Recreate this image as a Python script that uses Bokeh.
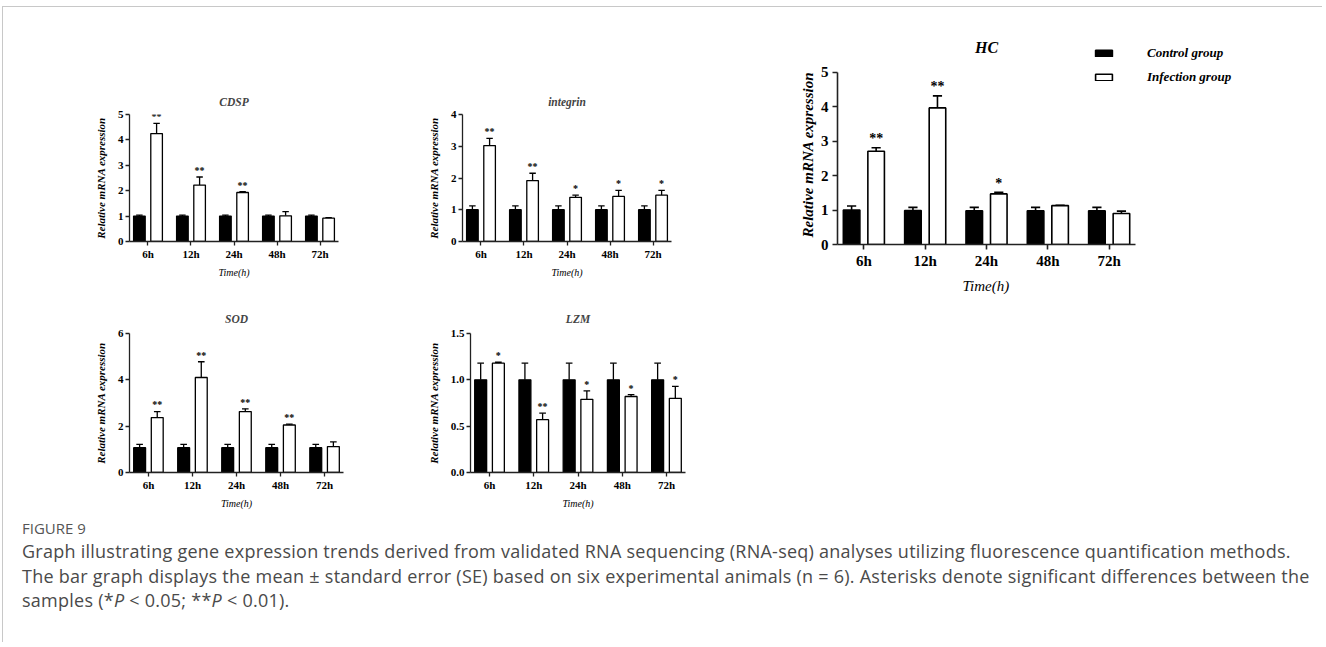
from bokeh.plotting import figure
from bokeh.layouts import row, column
from bokeh.models import (ColumnDataSource, FixedTicker, Spacer, Div, Legend, LegendItem,
                          Range1d, NumeralTickFormatter, Label, Title)
from bokeh.embed import file_html
from bokeh.resources import INLINE
from bokeh.core.properties import value

# ---------------- data ----------------
time_labels = ["6h", "12h", "24h", "48h", "72h"]

cdsp_control = [1.00, 1.00, 1.00, 1.00, 1.00]
cdsp_control_se = [0.04, 0.04, 0.04, 0.04, 0.04]
cdsp_infection = [4.25, 2.22, 1.93, 1.01, 0.92]
cdsp_infection_se = [0.40, 0.32, 0.03, 0.17, 0.02]
cdsp_sig = ["**", "**", "**", "", ""]

integrin_control = [1.00, 1.00, 1.00, 1.00, 1.00]
integrin_control_se = [0.12, 0.12, 0.12, 0.12, 0.12]
integrin_infection = [3.02, 1.92, 1.39, 1.42, 1.46]
integrin_infection_se = [0.23, 0.23, 0.07, 0.19, 0.15]
integrin_sig = ["**", "**", "*", "*", "*"]

hc_control = [1.00, 0.99, 0.98, 0.98, 0.98]
hc_control_se = [0.12, 0.09, 0.10, 0.10, 0.10]
hc_infection = [2.71, 3.97, 1.47, 1.13, 0.90]
hc_infection_se = [0.10, 0.35, 0.05, 0.01, 0.07]
hc_sig = ["**", "**", "*", "", ""]

sod_control = [1.07, 1.07, 1.07, 1.07, 1.07]
sod_control_se = [0.14, 0.14, 0.14, 0.14, 0.14]
sod_infection = [2.37, 4.10, 2.63, 2.05, 1.12]
sod_infection_se = [0.26, 0.68, 0.12, 0.04, 0.20]
sod_sig = ["**", "**", "**", "**", ""]

lzm_control = [1.00, 1.00, 1.00, 1.00, 1.00]
lzm_control_se = [0.18, 0.18, 0.18, 0.18, 0.18]
lzm_infection = [1.18, 0.57, 0.79, 0.82, 0.80]
lzm_infection_se = [0.01, 0.07, 0.09, 0.02, 0.13]
lzm_sig = ["*", "**", "*", "*", "*"]

legend_labels = ["Control group", "Infection group"]
y_title = "Relative mRNA expression"
x_title = "Time(h)"

SERIF = "Liberation Serif"
AXIS_COLOR = "#222222"
X_PAD = 0.43


def panel(title, ctrl, ctrl_se, inf, inf_se, sig, yticks, ymax, geom, big=False, fmt=None,
          title_standoff=14, extend=None):
    w, h, ml, mr, mt, mb = geom
    idx = list(range(len(time_labels)))
    x_axis_end = len(idx) - 1 + X_PAD
    x_end, y_end = extend if extend else (x_axis_end, ymax)
    p = figure(width=w, height=h, min_border_left=ml, min_border_right=mr,
               min_border_top=mt, min_border_bottom=mb,
               x_range=Range1d(-X_PAD, x_end), y_range=Range1d(0, y_end),
               output_backend="svg", toolbar_location=None, tools="")
    p.outline_line_color = None
    p.xgrid.grid_line_color = None
    p.ygrid.grid_line_color = None
    p.background_fill_color = "white"
    p.border_fill_color = "white"

    off = 0.2
    bw = 0.27
    xc = [i - off for i in idx]
    xi = [i + off for i in idx]
    lw = 1.6 if big else 1.3
    src = ColumnDataSource(dict(
        xc=xc, xi=xi, ctrl=ctrl, inf=inf,
        ctrl_top=[c + e for c, e in zip(ctrl, ctrl_se)],
        inf_top=[v + e for v, e in zip(inf, inf_se)],
        xc0=[x - 0.075 for x in xc], xc1=[x + 0.075 for x in xc],
        xi0=[x - 0.075 for x in xi], xi1=[x + 0.075 for x in xi],
        sig=sig,
        sig_y=[v + e + ymax * 0.008 for v, e in zip(inf, inf_se)],
    ))
    # error bars (upper only, GraphPad style)
    p.segment(x0="xc", y0="ctrl", x1="xc", y1="ctrl_top", source=src, line_color="black", line_width=lw)
    p.segment(x0="xc0", y0="ctrl_top", x1="xc1", y1="ctrl_top", source=src, line_color="black", line_width=lw)
    p.segment(x0="xi", y0="inf", x1="xi", y1="inf_top", source=src, line_color="black", line_width=lw)
    p.segment(x0="xi0", y0="inf_top", x1="xi1", y1="inf_top", source=src, line_color="black", line_width=lw)
    r_ctrl = p.vbar(x="xc", top="ctrl", bottom=0, width=bw, source=src,
                    fill_color="black", line_color="black", line_width=lw)
    r_inf = p.vbar(x="xi", top="inf", bottom=0, width=bw, source=src,
                   fill_color="white", line_color="black", line_width=lw)
    p.text(x="xi", y="sig_y", text="sig", source=src, text_align="center", text_baseline="bottom",
           text_font=value(SERIF), text_font_style="bold",
           text_font_size="14px" if big else "10px", text_color="black")

    # axes
    for ax in (p.xaxis[0], p.yaxis[0]):
        ax.axis_line_color = AXIS_COLOR
        ax.axis_line_width = 1.6 if big else 1.3
        ax.major_tick_line_color = AXIS_COLOR
        ax.major_tick_line_width = 1.6 if big else 1.3
        ax.major_tick_out = 5 if big else 4
        ax.major_tick_in = 0
        ax.minor_tick_line_color = None
        ax.major_label_text_font = SERIF
        ax.major_label_text_font_style = "bold"
        ax.major_label_text_font_size = "15px" if big else "11px"
        ax.major_label_text_color = "black"
        ax.axis_label_text_font = SERIF
        ax.axis_label_text_color = "black"

    p.xaxis.ticker = FixedTicker(ticks=idx)
    p.xaxis.major_label_overrides = {i: lab for i, lab in zip(idx, time_labels)}
    p.xaxis.major_label_standoff = 3 if big else 2
    p.xaxis.bounds = (-X_PAD, x_axis_end)
    p.yaxis.ticker = FixedTicker(ticks=yticks)
    if fmt:
        p.yaxis.formatter = NumeralTickFormatter(format=fmt)
    p.yaxis.major_label_standoff = 4 if big else 2
    p.yaxis.bounds = (0, ymax)

    if extend:
        # frame is larger than the axes: titles placed with explicit offsets
        p.add_layout(Label(x=idx[len(idx) // 2], y=5.73, text=title,
                           text_align="center", text_baseline="middle",
                           text_font=SERIF, text_font_style="bold italic",
                           text_font_size="16px", text_color="black"))
        p.add_layout(Title(text=y_title, align="left", offset=7, standoff=4,
                           text_font=SERIF, text_font_style="bold italic",
                           text_font_size="15px", text_color="black"), "left")
        p.add_layout(Title(text=x_title, align="left", offset=125, standoff=8,
                           text_font=SERIF, text_font_style="italic",
                           text_font_size="15px", text_color="black"), "below")
    else:
        p.title.text = title
        p.title.align = "center"
        p.title.text_font = SERIF
        p.title.text_font_style = "bold italic"
        p.title.text_font_size = "11.5px"
        p.title.standoff = title_standoff
        p.xaxis.axis_label = x_title
        p.xaxis.axis_label_text_font_style = "italic"
        p.xaxis.axis_label_text_font_size = "10px"
        p.xaxis.axis_label_standoff = 4
        p.yaxis.axis_label = y_title
        p.yaxis.axis_label_text_font_style = "bold italic"
        p.yaxis.axis_label_text_font_size = "11px"
        p.yaxis.axis_label_standoff = 8
    return p, r_ctrl, r_inf


cdsp, _, _ = panel("CDSP", cdsp_control, cdsp_control_se, cdsp_infection, cdsp_infection_se,
                   cdsp_sig, [0, 1, 2, 3, 4, 5], 5, (342, 273, 126, 7, 107, 34), title_standoff=14)
integrin, _, _ = panel("integrin", integrin_control, integrin_control_se, integrin_infection,
                       integrin_infection_se, integrin_sig, [0, 1, 2, 3, 4], 4,
                       (355, 273, 117, 29, 107, 34), title_standoff=14)
sod, _, _ = panel("SOD", sod_control, sod_control_se, sod_infection, sod_infection_se,
                  sod_sig, [0, 2, 4, 6], 6, (342, 235, 126, 2, 53, 42), title_standoff=17)
lzm, _, _ = panel("LZM", lzm_control, lzm_control_se, lzm_infection, lzm_infection_se,
                  lzm_sig, [0, 0.5, 1.0, 1.5], 1.5, (355, 235, 125, 15, 52, 43), fmt="0.0",
                  title_standoff=17)
# HC: frame extended up/right (axis lines bounded) so the legend and title sit inside it
hc, hc_ctrl, hc_inf = panel("HC", hc_control, hc_control_se, hc_infection, hc_infection_se,
                            hc_sig, [0, 1, 2, 3, 4, 5], 5, (600, 293, 137, 0, 23, 56), big=True,
                            extend=(7.12, 6.22))

legend = Legend(items=[LegendItem(label=legend_labels[0], renderers=[hc_ctrl]),
                       LegendItem(label=legend_labels[1], renderers=[hc_inf])],
                location=(256, 159), orientation="vertical",
                glyph_width=21, glyph_height=8, label_standoff=33, spacing=8,
                padding=0, margin=0, border_line_color=None, background_fill_alpha=0,
                label_text_font=SERIF, label_text_font_style="bold italic",
                label_text_font_size="13px", label_text_color="black")
hc.add_layout(legend)

caption_html = (
    '<div style="font-family:\'Open Sans\',sans-serif;color:#555555;font-size:15px;'
    'line-height:20px;margin-top:3px;">FIGURE 9</div>'
    '<div style="font-family:\'Open Sans\',sans-serif;color:#4a4a4a;font-size:18px;'
    'letter-spacing:0.25px;line-height:24.5px;margin-top:1px;white-space:nowrap;">'
    'Graph illustrating gene expression trends derived from validated RNA sequencing (RNA-seq) '
    'analyses utilizing fluorescence quantification methods.<br>'
    'The bar graph displays the mean \u00b1 standard error (SE) based on six experimental animals '
    '(n = 6). Asterisks denote significant differences between the<br>'
    'samples (*<i>P</i> &lt; 0.05; **<i>P</i> &lt; 0.01).</div>'
)
caption = Div(text=caption_html, width=1300, height=127, margin=(0, 0, 0, 19))

left_block = column(row(cdsp, integrin, spacing=0), row(sod, lzm, spacing=0), spacing=0)
right_block = column(hc, Spacer(width=600, height=215), spacing=0)
main_row = row(left_block, right_block, spacing=0)

page = column(main_row, caption, spacing=0, margin=(6, 0, 0, 2),
              styles={"border-top": "1px solid #c8c8c8", "border-left": "1px solid #c8c8c8"})

open("out.html", "w").write(file_html(page, INLINE))
